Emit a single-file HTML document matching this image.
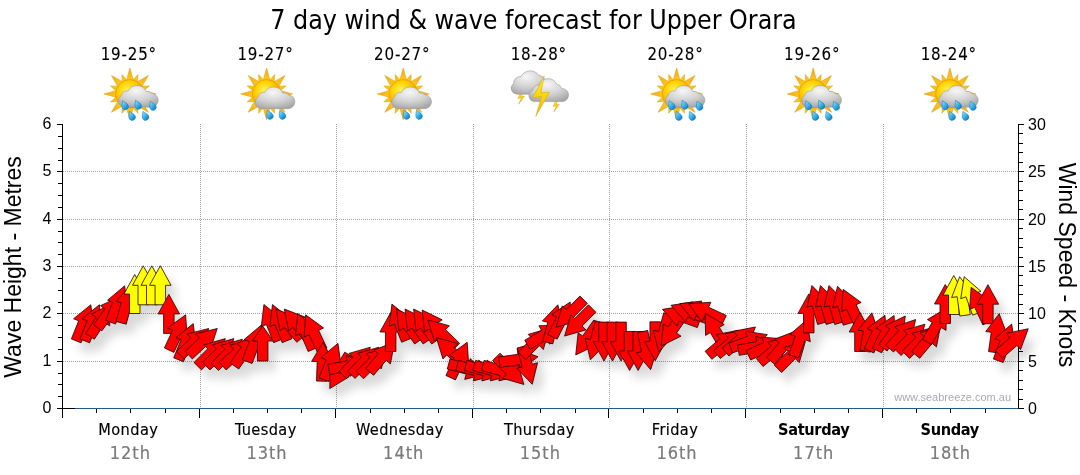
<!DOCTYPE html><html><head><meta charset="utf-8"><title>7 day wind &amp; wave forecast for Upper Orara</title><style>html,body{margin:0;padding:0;background:#fff;width:1080px;height:475px;overflow:hidden}.t{font-family:"DejaVu Sans Condensed","Liberation Sans",sans-serif}.a{font-family:"Liberation Sans",Arial,sans-serif}</style></head><body><svg width="1080" height="475" viewBox="0 0 1080 475" style="display:block"><defs>
<filter id="shadow" x="-5%" y="-20%" width="115%" height="150%">
<feGaussianBlur in="SourceAlpha" stdDeviation="5"/>
<feOffset dx="7" dy="10" result="b"/>
<feComponentTransfer><feFuncA type="linear" slope="0.15"/></feComponentTransfer>
<feMerge><feMergeNode/><feMergeNode in="SourceGraphic"/></feMerge>
</filter>
<polygon id="ar" points="0,-19.5 10.75,0 5.25,0 5.25,19.5 -5.25,19.5 -5.25,0 -10.75,0" vector-effect="non-scaling-stroke"/>
<radialGradient id="gSun" cx="0.42" cy="0.38" r="0.62"><stop offset="0" stop-color="#fff35a"/><stop offset="0.5" stop-color="#ffd200"/><stop offset="1" stop-color="#f0a000"/></radialGradient>
<radialGradient id="gRay" gradientUnits="userSpaceOnUse" cx="31.9" cy="29.9" r="26"><stop offset="0.4" stop-color="#ffd21a"/><stop offset="1" stop-color="#f4a810"/></radialGradient>
<radialGradient id="gCloud" cx="0.45" cy="0.25" r="0.8"><stop offset="0" stop-color="#f6f6f6"/><stop offset="0.55" stop-color="#d2d2d2"/><stop offset="1" stop-color="#a4a4a4"/></radialGradient>
<linearGradient id="gDrop" x1="0" y1="0" x2="0.3" y2="1"><stop offset="0" stop-color="#c8f0ff"/><stop offset="0.5" stop-color="#4cc4f4"/><stop offset="1" stop-color="#1588d0"/></linearGradient>
<linearGradient id="gBolt" x1="0" y1="0" x2="0" y2="1"><stop offset="0" stop-color="#ffef20"/><stop offset="0.6" stop-color="#fcd000"/><stop offset="1" stop-color="#f0a020"/></linearGradient>
<symbol id="ic_r5" viewBox="0 0 66 60" width="66" height="60" overflow="visible">
<path d="M36.1,18.9L31.9,3.9L27.7,18.9ZM39.3,21.0L39.9,10.5L33.0,18.4ZM42.6,25.1L50.3,11.5L36.7,19.2ZM43.4,28.8L51.3,21.9L40.8,22.5ZM42.9,34.1L57.9,29.9L42.9,25.7ZM40.8,37.3L51.3,37.9L43.4,31.0ZM36.7,40.6L50.3,48.3L42.6,34.7ZM33.0,41.4L39.9,49.3L39.3,38.8ZM27.7,40.9L31.9,55.9L36.1,40.9ZM24.5,38.8L23.9,49.3L30.8,41.4ZM21.2,34.7L13.5,48.3L27.1,40.6ZM20.4,31.0L12.5,37.9L23.0,37.3ZM20.9,25.7L5.9,29.9L20.9,34.1ZM23.0,22.5L12.5,21.9L20.4,28.8ZM27.1,19.2L13.5,11.5L21.2,25.1ZM30.8,18.4L23.9,10.5L24.5,21.0Z" fill="url(#gRay)" stroke="#e09a10" stroke-width="0.5"/><circle cx="31.9" cy="29.9" r="14.3" fill="url(#gSun)" stroke="#eb9a00" stroke-width="0.7"/>
<path transform="translate(40 36) scale(0.95) translate(-40 -36)" d="M26,43.5 A6.8,6.8 0 0 1 22.3,31.2 A6,6 0 0 1 29.5,26.5 A10.5,10.5 0 0 1 48.5,27 A6.5,6.5 0 0 1 54.5,29 A7.3,7.3 0 0 1 55,43.5 Z" fill="url(#gCloud)" stroke="#9a9a9a" stroke-width="0.6"/>
<path transform="translate(26.7 41.5) rotate(-25) scale(1.0)" d="M0,-5.2 C1.2,-3 3.2,-1 3.2,1.2 A3.2,3.2 0 0 1 -3.2,1.2 C-3.2,-1 -1.2,-3 0,-5.2Z" fill="url(#gDrop)" stroke="#1276b8" stroke-width="0.5"/>
<path transform="translate(39.7 41) rotate(-25) scale(1.0)" d="M0,-5.2 C1.2,-3 3.2,-1 3.2,1.2 A3.2,3.2 0 0 1 -3.2,1.2 C-3.2,-1 -1.2,-3 0,-5.2Z" fill="url(#gDrop)" stroke="#1276b8" stroke-width="0.5"/>
<path transform="translate(54.5 42) rotate(-25) scale(1.0)" d="M0,-5.2 C1.2,-3 3.2,-1 3.2,1.2 A3.2,3.2 0 0 1 -3.2,1.2 C-3.2,-1 -1.2,-3 0,-5.2Z" fill="url(#gDrop)" stroke="#1276b8" stroke-width="0.5"/>
<path transform="translate(33.7 52.1) rotate(-25) scale(1.0)" d="M0,-5.2 C1.2,-3 3.2,-1 3.2,1.2 A3.2,3.2 0 0 1 -3.2,1.2 C-3.2,-1 -1.2,-3 0,-5.2Z" fill="url(#gDrop)" stroke="#1276b8" stroke-width="0.5"/>
<path transform="translate(47.1 52.1) rotate(-25) scale(1.0)" d="M0,-5.2 C1.2,-3 3.2,-1 3.2,1.2 A3.2,3.2 0 0 1 -3.2,1.2 C-3.2,-1 -1.2,-3 0,-5.2Z" fill="url(#gDrop)" stroke="#1276b8" stroke-width="0.5"/>
</symbol>
<symbol id="ic_r2" viewBox="0 0 66 60" width="66" height="60" overflow="visible">
<path d="M36.1,18.9L31.9,3.9L27.7,18.9ZM39.3,21.0L39.9,10.5L33.0,18.4ZM42.6,25.1L50.3,11.5L36.7,19.2ZM43.4,28.8L51.3,21.9L40.8,22.5ZM42.9,34.1L57.9,29.9L42.9,25.7ZM40.8,37.3L51.3,37.9L43.4,31.0ZM36.7,40.6L50.3,48.3L42.6,34.7ZM33.0,41.4L39.9,49.3L39.3,38.8ZM27.7,40.9L31.9,55.9L36.1,40.9ZM24.5,38.8L23.9,49.3L30.8,41.4ZM21.2,34.7L13.5,48.3L27.1,40.6ZM20.4,31.0L12.5,37.9L23.0,37.3ZM20.9,25.7L5.9,29.9L20.9,34.1ZM23.0,22.5L12.5,21.9L20.4,28.8ZM27.1,19.2L13.5,11.5L21.2,25.1ZM30.8,18.4L23.9,10.5L24.5,21.0Z" fill="url(#gRay)" stroke="#e09a10" stroke-width="0.5"/><circle cx="31.9" cy="29.9" r="14.3" fill="url(#gSun)" stroke="#eb9a00" stroke-width="0.7"/>
<path transform="translate(0 1.5) translate(40 36) scale(0.95) translate(-40 -36)" d="M26,43.5 A6.8,6.8 0 0 1 22.3,31.2 A6,6 0 0 1 29.5,26.5 A10.5,10.5 0 0 1 48.5,27 A6.5,6.5 0 0 1 54.5,29 A7.3,7.3 0 0 1 55,43.5 Z" fill="url(#gCloud)" stroke="#9a9a9a" stroke-width="0.6"/>
<path transform="translate(34.8 51) rotate(-25) scale(1.0)" d="M0,-5.2 C1.2,-3 3.2,-1 3.2,1.2 A3.2,3.2 0 0 1 -3.2,1.2 C-3.2,-1 -1.2,-3 0,-5.2Z" fill="url(#gDrop)" stroke="#1276b8" stroke-width="0.5"/>
<path transform="translate(47.3 51) rotate(-25) scale(1.0)" d="M0,-5.2 C1.2,-3 3.2,-1 3.2,1.2 A3.2,3.2 0 0 1 -3.2,1.2 C-3.2,-1 -1.2,-3 0,-5.2Z" fill="url(#gDrop)" stroke="#1276b8" stroke-width="0.5"/>
</symbol>
<symbol id="ic_th" viewBox="0 0 66 60" width="66" height="60" overflow="visible">
<path transform="translate(13 27.5) scale(1.15)" d="M0,0 L-2.5,6 L0.5,5.5 L-2,11 L3,4 L0.3,4.3 L1.5,0Z" fill="url(#gBolt)" stroke="#d49a10" stroke-width="0.4"/>
<path transform="translate(48 35.8) scale(1.1)" d="M0,0 L-2.5,6 L0.5,5.5 L-2,11 L3,4 L0.3,4.3 L1.5,0Z" fill="url(#gBolt)" stroke="#d49a10" stroke-width="0.4"/>
<path d="M9,30.2 A6,6 0 0 1 5.5,19.5 A7,7 0 0 1 13,12.5 A10.5,10.5 0 0 1 31,11.5 A6,6 0 0 1 37,17 L36,30.2Z" fill="url(#gCloud)" stroke="#9a9a9a" stroke-width="0.6"/>
<path d="M26,37.6 A5.8,5.8 0 0 1 24.5,26.5 A6.5,6.5 0 0 1 31,21 A9.5,9.5 0 0 1 48.5,20 A6,6 0 0 1 53.5,24.5 A6.6,6.6 0 0 1 55,37.6Z" fill="url(#gCloud)" stroke="#9a9a9a" stroke-width="0.6"/>
<path d="M36.2,11.8 L24.6,33.9 L33.6,32.4 L27.8,52.3 L41.5,28.1 L32.8,28.9 Z" fill="url(#gBolt)" stroke="#d8a010" stroke-width="0.5"/>
</symbol></defs>
<text class="t" x="533.5" y="29" font-size="26.5" text-anchor="middle" fill="#000">7 day wind &amp; wave forecast for Upper Orara</text><g stroke="#a0a0a0" stroke-width="1" stroke-dasharray="1 1"><line x1="63" y1="361.5" x2="1018" y2="361.5"/><line x1="63" y1="313.5" x2="1018" y2="313.5"/><line x1="63" y1="266.5" x2="1018" y2="266.5"/><line x1="63" y1="219.5" x2="1018" y2="219.5"/><line x1="63" y1="171.5" x2="1018" y2="171.5"/><line x1="200.5" y1="124" x2="200.5" y2="408"/><line x1="336.5" y1="124" x2="336.5" y2="408"/><line x1="473.5" y1="124" x2="473.5" y2="408"/><line x1="609.5" y1="124" x2="609.5" y2="408"/><line x1="746.5" y1="124" x2="746.5" y2="408"/><line x1="883.5" y1="124" x2="883.5" y2="408"/></g><g stroke="#000" stroke-width="1"><line x1="62.5" y1="124" x2="62.5" y2="418"/><line x1="1018.5" y1="124" x2="1018.5" y2="409"/><line x1="57" y1="408.5" x2="76" y2="408.5"/><line x1="57" y1="408.5" x2="62.5" y2="408.5"/><line x1="58" y1="396.5" x2="62.5" y2="396.5"/><line x1="58" y1="384.5" x2="62.5" y2="384.5"/><line x1="58" y1="373.5" x2="62.5" y2="373.5"/><line x1="57" y1="361.5" x2="62.5" y2="361.5"/><line x1="58" y1="349.5" x2="62.5" y2="349.5"/><line x1="58" y1="337.5" x2="62.5" y2="337.5"/><line x1="58" y1="325.5" x2="62.5" y2="325.5"/><line x1="57" y1="313.5" x2="62.5" y2="313.5"/><line x1="58" y1="302.5" x2="62.5" y2="302.5"/><line x1="58" y1="290.5" x2="62.5" y2="290.5"/><line x1="58" y1="278.5" x2="62.5" y2="278.5"/><line x1="57" y1="266.5" x2="62.5" y2="266.5"/><line x1="58" y1="254.5" x2="62.5" y2="254.5"/><line x1="58" y1="242.5" x2="62.5" y2="242.5"/><line x1="58" y1="231.5" x2="62.5" y2="231.5"/><line x1="57" y1="219.5" x2="62.5" y2="219.5"/><line x1="58" y1="207.5" x2="62.5" y2="207.5"/><line x1="58" y1="195.5" x2="62.5" y2="195.5"/><line x1="58" y1="183.5" x2="62.5" y2="183.5"/><line x1="57" y1="171.5" x2="62.5" y2="171.5"/><line x1="58" y1="160.5" x2="62.5" y2="160.5"/><line x1="58" y1="148.5" x2="62.5" y2="148.5"/><line x1="58" y1="136.5" x2="62.5" y2="136.5"/><line x1="57" y1="124.5" x2="62.5" y2="124.5"/><line x1="1018.5" y1="408.5" x2="1024" y2="408.5"/><line x1="1018.5" y1="399.5" x2="1023" y2="399.5"/><line x1="1018.5" y1="389.5" x2="1023" y2="389.5"/><line x1="1018.5" y1="380.5" x2="1023" y2="380.5"/><line x1="1018.5" y1="370.5" x2="1023" y2="370.5"/><line x1="1018.5" y1="361.5" x2="1024" y2="361.5"/><line x1="1018.5" y1="351.5" x2="1023" y2="351.5"/><line x1="1018.5" y1="342.5" x2="1023" y2="342.5"/><line x1="1018.5" y1="332.5" x2="1023" y2="332.5"/><line x1="1018.5" y1="323.5" x2="1023" y2="323.5"/><line x1="1018.5" y1="313.5" x2="1024" y2="313.5"/><line x1="1018.5" y1="304.5" x2="1023" y2="304.5"/><line x1="1018.5" y1="294.5" x2="1023" y2="294.5"/><line x1="1018.5" y1="285.5" x2="1023" y2="285.5"/><line x1="1018.5" y1="275.5" x2="1023" y2="275.5"/><line x1="1018.5" y1="266.5" x2="1024" y2="266.5"/><line x1="1018.5" y1="257.5" x2="1023" y2="257.5"/><line x1="1018.5" y1="247.5" x2="1023" y2="247.5"/><line x1="1018.5" y1="238.5" x2="1023" y2="238.5"/><line x1="1018.5" y1="228.5" x2="1023" y2="228.5"/><line x1="1018.5" y1="219.5" x2="1024" y2="219.5"/><line x1="1018.5" y1="209.5" x2="1023" y2="209.5"/><line x1="1018.5" y1="200.5" x2="1023" y2="200.5"/><line x1="1018.5" y1="190.5" x2="1023" y2="190.5"/><line x1="1018.5" y1="181.5" x2="1023" y2="181.5"/><line x1="1018.5" y1="171.5" x2="1024" y2="171.5"/><line x1="1018.5" y1="162.5" x2="1023" y2="162.5"/><line x1="1018.5" y1="152.5" x2="1023" y2="152.5"/><line x1="1018.5" y1="143.5" x2="1023" y2="143.5"/><line x1="1018.5" y1="133.5" x2="1023" y2="133.5"/><line x1="1018.5" y1="124.5" x2="1024" y2="124.5"/><line x1="62.5" y1="408" x2="62.5" y2="418"/><line x1="96.5" y1="408" x2="96.5" y2="413"/><line x1="130.5" y1="408" x2="130.5" y2="413"/><line x1="165.5" y1="408" x2="165.5" y2="413"/><line x1="199.5" y1="408" x2="199.5" y2="418"/><line x1="233.5" y1="408" x2="233.5" y2="413"/><line x1="267.5" y1="408" x2="267.5" y2="413"/><line x1="301.5" y1="408" x2="301.5" y2="413"/><line x1="335.5" y1="408" x2="335.5" y2="418"/><line x1="370.5" y1="408" x2="370.5" y2="413"/><line x1="404.5" y1="408" x2="404.5" y2="413"/><line x1="438.5" y1="408" x2="438.5" y2="413"/><line x1="472.5" y1="408" x2="472.5" y2="418"/><line x1="506.5" y1="408" x2="506.5" y2="413"/><line x1="540.5" y1="408" x2="540.5" y2="413"/><line x1="575.5" y1="408" x2="575.5" y2="413"/><line x1="608.5" y1="408" x2="608.5" y2="418"/><line x1="643.5" y1="408" x2="643.5" y2="413"/><line x1="677.5" y1="408" x2="677.5" y2="413"/><line x1="711.5" y1="408" x2="711.5" y2="413"/><line x1="745.5" y1="408" x2="745.5" y2="418"/><line x1="780.5" y1="408" x2="780.5" y2="413"/><line x1="814.5" y1="408" x2="814.5" y2="413"/><line x1="848.5" y1="408" x2="848.5" y2="413"/><line x1="882.5" y1="408" x2="882.5" y2="418"/><line x1="916.5" y1="408" x2="916.5" y2="413"/><line x1="950.5" y1="408" x2="950.5" y2="413"/><line x1="985.5" y1="408" x2="985.5" y2="413"/></g><line x1="75" y1="408.5" x2="1018" y2="408.5" stroke="#1f5c8c" stroke-width="1.2"/><text class="a" x="1011" y="401" font-size="11" text-anchor="end" fill="#aaaab8">www.seabreeze.com.au</text><text class="a" x="51.5" y="413.4" font-size="16" text-anchor="end">0</text><text class="a" x="51.5" y="366.4" font-size="16" text-anchor="end">1</text><text class="a" x="51.5" y="318.4" font-size="16" text-anchor="end">2</text><text class="a" x="51.5" y="271.4" font-size="16" text-anchor="end">3</text><text class="a" x="51.5" y="224.4" font-size="16" text-anchor="end">4</text><text class="a" x="51.5" y="176.4" font-size="16" text-anchor="end">5</text><text class="a" x="51.5" y="129.4" font-size="16" text-anchor="end">6</text><text class="a" x="1028" y="413.6" font-size="16">0</text><text class="a" x="1028" y="366.6" font-size="16">5</text><text class="a" x="1028" y="318.6" font-size="16">10</text><text class="a" x="1028" y="271.6" font-size="16">15</text><text class="a" x="1028" y="224.6" font-size="16">20</text><text class="a" x="1028" y="176.6" font-size="16">25</text><text class="a" x="1028" y="129.6" font-size="16">30</text><text class="a" x="0" y="0" font-size="23" text-anchor="middle" transform="translate(20.5 267) rotate(-90)">Wave Height - Metres</text><text class="a" x="0" y="0" font-size="23" text-anchor="middle" transform="translate(1059 265) rotate(90)">Wind Speed - Knots</text><text class="t" x="128.3" y="435" font-size="16.2" text-anchor="middle" letter-spacing="0.4" stroke="#000" stroke-width="0.15">Monday</text><text class="t" x="130.3" y="459" font-size="18" text-anchor="middle" fill="#7a7a7a" letter-spacing="1" stroke="#7a7a7a" stroke-width="0.2">12th</text><text class="t" x="128.8" y="59.6" font-size="16.8" text-anchor="middle" letter-spacing="0.8" stroke="#000" stroke-width="0.1">19-25°</text><use href="#ic_r5" x="98.0" y="64"/><text class="t" x="265.8" y="435" font-size="16.2" text-anchor="middle" letter-spacing="0.4" stroke="#000" stroke-width="0.15">Tuesday</text><text class="t" x="267.0" y="459" font-size="18" text-anchor="middle" fill="#7a7a7a" letter-spacing="1" stroke="#7a7a7a" stroke-width="0.2">13th</text><text class="t" x="265.5" y="59.6" font-size="16.8" text-anchor="middle" letter-spacing="0.8" stroke="#000" stroke-width="0.1">19-27°</text><use href="#ic_r2" x="234.7" y="64"/><text class="t" x="399.9" y="435" font-size="16.2" text-anchor="middle" letter-spacing="0.4" stroke="#000" stroke-width="0.15">Wednesday</text><text class="t" x="403.7" y="459" font-size="18" text-anchor="middle" fill="#7a7a7a" letter-spacing="1" stroke="#7a7a7a" stroke-width="0.2">14th</text><text class="t" x="402.2" y="59.6" font-size="16.8" text-anchor="middle" letter-spacing="0.8" stroke="#000" stroke-width="0.1">20-27°</text><use href="#ic_r2" x="371.3" y="64"/><text class="t" x="539.4" y="435" font-size="16.2" text-anchor="middle" letter-spacing="0.4" stroke="#000" stroke-width="0.15">Thursday</text><text class="t" x="540.3" y="459" font-size="18" text-anchor="middle" fill="#7a7a7a" letter-spacing="1" stroke="#7a7a7a" stroke-width="0.2">15th</text><text class="t" x="538.8" y="59.6" font-size="16.8" text-anchor="middle" letter-spacing="0.8" stroke="#000" stroke-width="0.1">18-28°</text><use href="#ic_th" x="508.0" y="64"/><text class="t" x="675.0" y="435" font-size="16.2" text-anchor="middle" letter-spacing="0.4" stroke="#000" stroke-width="0.15">Friday</text><text class="t" x="677.0" y="459" font-size="18" text-anchor="middle" fill="#7a7a7a" letter-spacing="1" stroke="#7a7a7a" stroke-width="0.2">16th</text><text class="t" x="675.5" y="59.6" font-size="16.8" text-anchor="middle" letter-spacing="0.8" stroke="#000" stroke-width="0.1">20-28°</text><use href="#ic_r5" x="644.7" y="64"/><text class="t" x="813.7" y="435" font-size="16.2" text-anchor="middle" font-weight="bold" letter-spacing="-0.35">Saturday</text><text class="t" x="813.7" y="459" font-size="18" text-anchor="middle" fill="#7a7a7a" letter-spacing="1" stroke="#7a7a7a" stroke-width="0.2">17th</text><text class="t" x="812.2" y="59.6" font-size="16.8" text-anchor="middle" letter-spacing="0.8" stroke="#000" stroke-width="0.1">19-26°</text><use href="#ic_r5" x="781.3" y="64"/><text class="t" x="949.7" y="435" font-size="16.2" text-anchor="middle" font-weight="bold" letter-spacing="-0.35">Sunday</text><text class="t" x="950.3" y="459" font-size="18" text-anchor="middle" fill="#7a7a7a" letter-spacing="1" stroke="#7a7a7a" stroke-width="0.2">18th</text><text class="t" x="948.8" y="59.6" font-size="16.8" text-anchor="middle" letter-spacing="0.8" stroke="#000" stroke-width="0.1">18-24°</text><use href="#ic_r5" x="918.0" y="64"/><g filter="url(#shadow)" stroke="#200000" stroke-width="0.8" stroke-linejoin="miter">
<polygon points="90.84,304.72 93.50,326.83 88.40,324.77 81.09,342.85 71.36,338.91 78.66,320.83 73.56,318.77" fill="#ff0000"/>
<polygon points="99.37,304.72 102.03,326.83 96.93,324.77 89.63,342.85 79.89,338.91 87.20,320.83 82.10,318.77" fill="#ff0000"/>
<polygon points="111.22,303.65 109.61,325.85 105.00,322.86 94.38,339.21 85.57,333.49 96.19,317.14 91.58,314.15" fill="#ff0000"/>
<polygon points="120.59,296.22 117.82,318.32 113.38,315.09 101.91,330.86 93.42,324.69 104.88,308.91 100.43,305.68" fill="#ff0000"/>
<polygon points="124.65,285.80 127.70,307.85 122.56,305.88 115.57,324.09 105.77,320.32 112.76,302.12 107.62,300.15" fill="#ff0000"/>
<polygon points="131.24,285.16 136.58,306.78 131.26,305.36 126.22,324.19 116.07,321.48 121.12,302.64 115.81,301.22" fill="#ff0000"/>
<polygon points="134.72,274.50 145.47,294.00 139.97,294.00 139.97,313.50 129.47,313.50 129.47,294.00 123.97,294.00" fill="#ffff00"/>
<polygon points="143.26,265.80 154.01,285.30 148.51,285.30 148.51,304.80 138.01,304.80 138.01,285.30 132.51,285.30" fill="#ffff00"/>
<polygon points="151.79,265.80 162.54,285.30 157.04,285.30 157.04,304.80 146.54,304.80 146.54,285.30 141.04,285.30" fill="#ffff00"/>
<polygon points="160.32,265.80 171.07,285.30 165.57,285.30 165.57,304.80 155.07,304.80 155.07,285.30 149.57,285.30" fill="#ffff00"/>
<polygon points="168.85,294.40 179.60,313.90 174.10,313.90 174.10,333.40 163.60,333.40 163.60,313.90 158.10,313.90" fill="#ff0000"/>
<polygon points="185.63,314.83 187.13,337.04 182.14,334.72 173.90,352.39 164.38,347.95 172.63,330.28 167.64,327.96" fill="#ff0000"/>
<polygon points="193.22,323.62 195.88,345.73 190.78,343.67 183.48,361.75 173.74,357.81 181.05,339.73 175.95,337.67" fill="#ff0000"/>
<polygon points="208.71,328.50 201.78,349.66 198.03,345.64 183.77,358.94 176.61,351.26 190.87,337.96 187.12,333.94" fill="#ff0000"/>
<polygon points="217.24,328.50 210.31,349.66 206.56,345.64 192.30,358.94 185.14,351.26 199.40,337.96 195.65,333.94" fill="#ff0000"/>
<polygon points="225.30,338.61 219.11,360.00 215.22,356.11 201.44,369.90 194.01,362.48 207.80,348.69 203.91,344.80" fill="#ff0000"/>
<polygon points="233.83,338.61 227.65,360.00 223.76,356.11 209.97,369.90 202.54,362.48 216.33,348.69 212.44,344.80" fill="#ff0000"/>
<polygon points="242.36,339.21 236.18,360.60 232.29,356.71 218.50,370.50 211.08,363.08 224.86,349.29 220.97,345.40" fill="#ff0000"/>
<polygon points="251.60,339.95 244.30,360.99 240.62,356.90 226.13,369.95 219.10,362.15 233.60,349.10 229.91,345.01" fill="#ff0000"/>
<polygon points="256.82,334.03 254.45,356.17 249.94,353.01 238.76,368.98 230.15,362.96 241.34,346.99 236.83,343.83" fill="#ff0000"/>
<polygon points="261.16,325.20 264.21,347.25 259.07,345.28 252.09,363.49 242.28,359.72 249.27,341.52 244.14,339.55" fill="#ff0000"/>
<polygon points="262.70,326.00 273.10,341.00 267.95,341.00 267.95,361.00 257.45,361.00 257.45,341.00 252.30,341.00" fill="#ff0000"/>
<polygon points="263.93,304.52 281.20,318.57 276.10,320.63 283.41,338.71 273.67,342.65 266.37,324.57 261.27,326.63" fill="#ff0000"/>
<polygon points="272.46,304.52 289.74,318.57 284.64,320.63 291.94,338.71 282.21,342.65 274.90,324.57 269.80,326.63" fill="#ff0000"/>
<polygon points="275.77,309.06 296.53,317.09 292.32,320.63 304.86,335.56 296.81,342.31 284.28,327.37 280.07,330.91" fill="#ff0000"/>
<polygon points="284.30,309.06 305.07,317.09 300.85,320.63 313.39,335.56 305.34,342.31 292.81,327.37 288.60,330.91" fill="#ff0000"/>
<polygon points="297.74,313.55 315.26,327.30 310.20,329.45 317.82,347.40 308.15,351.50 300.53,333.55 295.47,335.70" fill="#ff0000"/>
<polygon points="305.65,314.83 323.64,327.96 318.65,330.28 326.90,347.95 317.38,352.39 309.14,334.72 304.15,337.04" fill="#ff0000"/>
<polygon points="323.11,342.21 333.17,362.08 327.67,361.88 326.99,381.37 316.50,381.00 317.18,361.52 311.68,361.32" fill="#ff0000"/>
<polygon points="337.95,343.30 341.00,365.35 335.86,363.38 328.87,381.59 319.07,377.82 326.06,359.62 320.92,357.65" fill="#ff0000"/>
<polygon points="329.74,388.59 330.18,366.32 334.95,369.07 344.70,352.19 353.79,357.44 344.04,374.32 348.80,377.07" fill="#ff0000"/>
<polygon points="367.23,362.61 349.89,376.59 348.94,371.17 329.73,374.56 327.91,364.22 347.11,360.83 346.16,355.41" fill="#ff0000"/>
<polygon points="370.34,347.21 364.16,368.60 360.27,364.71 346.48,378.50 339.06,371.08 352.84,357.29 348.95,353.40" fill="#ff0000"/>
<polygon points="378.88,347.21 372.69,368.60 368.80,364.71 355.01,378.50 347.59,371.08 361.38,357.29 357.49,353.40" fill="#ff0000"/>
<polygon points="387.41,347.51 381.22,368.90 377.33,365.01 363.54,378.80 356.12,371.38 369.91,357.59 366.02,353.70" fill="#ff0000"/>
<polygon points="394.69,342.06 390.39,363.91 386.17,360.37 373.64,375.31 365.60,368.56 378.13,353.63 373.92,350.09" fill="#ff0000"/>
<polygon points="390.68,312.50 401.43,332.00 395.93,332.00 395.93,351.50 385.43,351.50 385.43,332.00 379.93,332.00" fill="#ff0000"/>
<polygon points="391.91,304.12 409.18,318.17 404.08,320.23 411.39,338.31 401.65,342.25 394.35,324.17 389.25,326.23" fill="#ff0000"/>
<polygon points="396.56,309.03 416.55,318.83 412.05,321.99 423.23,337.96 414.63,343.98 403.45,328.01 398.94,331.17" fill="#ff0000"/>
<polygon points="405.10,309.03 425.09,318.83 420.58,321.99 431.77,337.96 423.16,343.98 411.98,328.01 407.47,331.17" fill="#ff0000"/>
<polygon points="413.63,309.03 433.62,318.83 429.11,321.99 440.30,337.96 431.70,343.98 420.51,328.01 416.01,331.17" fill="#ff0000"/>
<polygon points="422.16,310.03 442.15,319.83 437.64,322.99 448.83,338.96 440.23,344.98 429.04,329.01 424.54,332.17" fill="#ff0000"/>
<polygon points="427.85,319.95 449.34,325.77 445.52,329.72 459.55,343.27 452.26,350.82 438.23,337.28 434.41,341.23" fill="#ff0000"/>
<polygon points="436.38,337.65 457.88,343.47 454.05,347.42 468.08,360.97 460.79,368.52 446.76,354.98 442.94,358.93" fill="#ff0000"/>
<polygon points="467.18,342.33 468.68,364.54 463.70,362.22 455.46,379.89 445.94,375.45 454.18,357.78 449.20,355.46" fill="#ff0000"/>
<polygon points="486.31,374.05 464.69,379.38 466.11,374.07 447.28,369.02 450.00,358.88 468.83,363.93 470.25,358.62" fill="#ff0000"/>
<polygon points="494.84,375.55 473.22,380.88 474.65,375.57 455.81,370.52 458.53,360.38 477.36,365.43 478.79,360.12" fill="#ff0000"/>
<polygon points="503.37,375.55 481.75,380.88 483.18,375.57 464.34,370.52 467.06,360.38 485.89,365.43 487.32,360.12" fill="#ff0000"/>
<polygon points="511.90,375.55 490.29,380.88 491.71,375.57 472.87,370.52 475.59,360.38 494.43,365.43 495.85,360.12" fill="#ff0000"/>
<polygon points="520.44,375.55 498.82,380.88 500.24,375.57 481.41,370.52 484.12,360.38 502.96,365.43 504.38,360.12" fill="#ff0000"/>
<polygon points="523.92,384.49 502.53,378.30 506.42,374.41 492.63,360.62 500.06,353.20 513.84,366.99 517.73,363.10" fill="#ff0000"/>
<polygon points="537.97,356.79 520.16,370.15 519.39,364.70 500.08,367.41 498.62,357.01 517.93,354.30 517.17,348.85" fill="#ff0000"/>
<polygon points="532.24,384.34 516.81,368.28 522.12,366.86 517.08,348.02 527.22,345.31 532.27,364.14 537.58,362.72" fill="#ff0000"/>
<polygon points="549.52,328.21 543.33,349.60 539.44,345.71 525.65,359.50 518.23,352.08 532.02,338.29 528.13,334.40" fill="#ff0000"/>
<polygon points="561.15,325.25 549.63,344.31 546.88,339.55 530.00,349.30 524.75,340.20 541.63,330.45 538.88,325.69" fill="#ff0000"/>
<polygon points="557.84,304.86 563.18,326.48 557.86,325.06 552.82,343.89 542.67,341.18 547.72,322.34 542.41,320.92" fill="#ff0000"/>
<polygon points="570.18,302.03 570.90,324.28 566.00,321.78 557.15,339.16 547.79,334.39 556.65,317.02 551.75,314.52" fill="#ff0000"/>
<polygon points="556.07,327.29 562.25,305.90 566.14,309.79 579.93,296.00 587.36,303.42 573.57,317.21 577.46,321.10" fill="#ff0000"/>
<polygon points="564.60,336.09 570.79,314.70 574.68,318.59 588.46,304.80 595.89,312.22 582.10,326.01 585.99,329.90" fill="#ff0000"/>
<polygon points="575.74,354.97 578.11,332.83 582.62,335.99 593.80,320.02 602.41,326.04 591.22,342.01 595.73,345.17" fill="#ff0000"/>
<polygon points="590.41,359.84 585.07,338.22 590.38,339.64 595.43,320.81 605.57,323.52 600.52,342.36 605.84,343.78" fill="#ff0000"/>
<polygon points="603.98,361.10 593.23,341.60 598.73,341.60 598.73,322.10 609.23,322.10 609.23,341.60 614.73,341.60" fill="#ff0000"/>
<polygon points="612.52,361.10 601.77,341.60 607.27,341.60 607.27,322.10 617.77,322.10 617.77,341.60 623.27,341.60" fill="#ff0000"/>
<polygon points="621.05,361.10 610.30,341.60 615.80,341.60 615.80,322.10 626.30,322.10 626.30,341.60 631.80,341.60" fill="#ff0000"/>
<polygon points="629.58,370.50 618.83,351.00 624.33,351.00 624.33,331.50 634.83,331.50 634.83,351.00 640.33,351.00" fill="#ff0000"/>
<polygon points="638.11,370.50 627.36,351.00 632.86,351.00 632.86,331.50 643.36,331.50 643.36,351.00 648.86,351.00" fill="#ff0000"/>
<polygon points="650.70,369.67 636.13,352.84 641.51,351.69 637.45,332.62 647.72,330.43 651.78,349.51 657.16,348.36" fill="#ff0000"/>
<polygon points="655.18,360.80 644.43,341.30 649.93,341.30 649.93,321.80 660.43,321.80 660.43,341.30 665.93,341.30" fill="#ff0000"/>
<polygon points="658.66,351.84 653.32,330.22 658.64,331.64 663.68,312.81 673.83,315.52 668.78,334.36 674.09,335.78" fill="#ff0000"/>
<polygon points="661.06,345.97 663.43,323.83 667.94,326.99 679.12,311.02 687.73,317.04 676.54,333.01 681.05,336.17" fill="#ff0000"/>
<polygon points="662.45,309.33 684.45,305.90 682.57,311.07 700.89,317.74 697.30,327.60 678.98,320.93 677.10,326.10" fill="#ff0000"/>
<polygon points="670.98,305.33 692.98,301.90 691.10,307.07 709.42,313.74 705.83,323.60 687.51,316.93 685.63,322.10" fill="#ff0000"/>
<polygon points="679.76,303.70 701.86,301.03 699.80,306.13 717.88,313.44 713.95,323.17 695.87,315.87 693.81,320.97" fill="#ff0000"/>
<polygon points="688.69,303.76 710.91,302.26 708.59,307.24 726.26,315.48 721.82,325.00 704.15,316.76 701.82,321.74" fill="#ff0000"/>
<polygon points="705.15,313.11 724.21,324.62 719.45,327.38 729.20,344.26 720.10,349.51 710.35,332.62 705.59,335.38" fill="#ff0000"/>
<polygon points="738.37,330.27 730.34,351.03 726.81,346.82 711.87,359.36 705.12,351.31 720.06,338.78 716.52,334.57" fill="#ff0000"/>
<polygon points="746.90,329.47 738.87,350.23 735.34,346.02 720.40,358.56 713.65,350.51 728.59,337.98 725.05,333.77" fill="#ff0000"/>
<polygon points="755.43,326.97 747.41,347.73 743.87,343.52 728.93,356.06 722.18,348.01 737.12,335.48 733.59,331.27" fill="#ff0000"/>
<polygon points="767.35,334.63 752.70,351.40 750.82,346.23 732.50,352.90 728.91,343.04 747.23,336.37 745.35,331.20" fill="#ff0000"/>
<polygon points="776.76,343.41 759.43,357.39 758.47,351.97 739.27,355.36 737.44,345.02 756.65,341.63 755.69,336.21" fill="#ff0000"/>
<polygon points="783.77,338.76 770.64,356.74 768.31,351.76 750.64,360.00 746.20,350.48 763.87,342.24 761.55,337.26" fill="#ff0000"/>
<polygon points="789.56,337.47 781.53,358.23 778.00,354.02 763.06,366.56 756.31,358.51 771.25,345.98 767.71,341.77" fill="#ff0000"/>
<polygon points="795.69,331.06 791.39,352.91 787.18,349.37 774.64,364.31 766.60,357.56 779.13,342.63 774.92,339.09" fill="#ff0000"/>
<polygon points="805.48,341.21 799.29,362.60 795.40,358.71 781.61,372.50 774.19,365.08 787.98,351.29 784.09,347.40" fill="#ff0000"/>
<polygon points="806.89,319.68 810.32,341.68 805.15,339.80 798.48,358.12 788.62,354.53 795.29,336.20 790.12,334.32" fill="#ff0000"/>
<polygon points="808.75,293.90 819.50,313.40 814.00,313.40 814.00,332.90 803.50,332.90 803.50,313.40 798.00,313.40" fill="#ff0000"/>
<polygon points="811.91,285.56 827.62,301.34 822.33,302.85 827.71,321.60 817.61,324.49 812.24,305.75 806.95,307.26" fill="#ff0000"/>
<polygon points="820.44,285.56 836.15,301.34 830.86,302.85 836.24,321.60 826.14,324.49 820.77,305.75 815.48,307.26" fill="#ff0000"/>
<polygon points="828.97,285.56 844.68,301.34 839.39,302.85 844.77,321.60 834.68,324.49 829.30,305.75 824.01,307.26" fill="#ff0000"/>
<polygon points="837.51,286.26 853.21,302.04 847.93,303.55 853.30,322.30 843.21,325.19 837.83,306.45 832.55,307.96" fill="#ff0000"/>
<polygon points="843.17,289.33 861.15,302.46 856.17,304.78 864.41,322.45 854.89,326.89 846.65,309.22 841.67,311.54" fill="#ff0000"/>
<polygon points="859.94,312.50 870.69,332.00 865.19,332.00 865.19,351.50 854.69,351.50 854.69,332.00 849.19,332.00" fill="#ff0000"/>
<polygon points="871.86,312.80 879.06,333.87 873.65,332.91 870.26,352.12 859.92,350.29 863.31,331.09 857.89,330.13" fill="#ff0000"/>
<polygon points="884.94,315.19 886.83,337.37 881.80,335.14 873.87,352.95 864.28,348.68 872.21,330.86 867.19,328.63" fill="#ff0000"/>
<polygon points="894.09,315.47 895.20,337.71 890.26,335.30 881.71,352.83 872.27,348.23 880.82,330.70 875.88,328.29" fill="#ff0000"/>
<polygon points="905.26,316.03 902.88,338.17 898.37,335.01 887.19,350.98 878.59,344.96 889.77,328.99 885.27,325.83" fill="#ff0000"/>
<polygon points="915.65,319.51 910.59,341.19 906.51,337.51 893.46,352.00 885.65,344.98 898.70,330.49 894.62,326.81" fill="#ff0000"/>
<polygon points="924.92,324.21 918.74,345.60 914.85,341.71 901.06,355.50 893.64,348.08 907.42,334.29 903.53,330.40" fill="#ff0000"/>
<polygon points="933.46,327.21 927.27,348.60 923.38,344.71 909.59,358.50 902.17,351.08 915.96,337.29 912.07,333.40" fill="#ff0000"/>
<polygon points="940.73,325.06 936.43,346.91 932.22,343.37 919.69,358.31 911.64,351.56 924.18,336.63 919.97,333.09" fill="#ff0000"/>
<polygon points="946.48,308.11 946.04,330.38 941.28,327.62 931.53,344.51 922.44,339.26 932.19,322.38 927.42,319.62" fill="#ff0000"/>
<polygon points="945.26,284.50 956.01,304.00 950.51,304.00 950.51,323.50 940.01,323.50 940.01,304.00 934.51,304.00" fill="#ff0000"/>
<polygon points="953.80,275.50 964.55,295.00 959.05,295.00 959.05,314.50 948.55,314.50 948.55,295.00 943.05,295.00" fill="#ffff00"/>
<polygon points="959.61,276.69 972.97,294.50 967.53,295.27 970.24,314.58 959.84,316.04 957.13,296.73 951.68,297.50" fill="#ffff00"/>
<polygon points="964.19,276.68 980.96,291.32 975.79,293.20 982.46,311.53 972.60,315.12 965.93,296.80 960.76,298.68" fill="#ffff00"/>
<polygon points="971.15,287.33 989.13,300.46 984.15,302.78 992.39,320.45 982.87,324.89 974.63,307.22 969.65,309.54" fill="#ff0000"/>
<polygon points="987.92,284.70 998.67,304.20 993.17,304.20 993.17,323.70 982.67,323.70 982.67,304.20 977.17,304.20" fill="#ff0000"/>
<polygon points="999.17,313.69 1007.10,334.50 1001.65,333.73 998.94,353.04 988.54,351.58 991.26,332.27 985.81,331.50" fill="#ff0000"/>
<polygon points="1011.66,324.08 1015.09,346.08 1009.92,344.20 1003.25,362.52 993.39,358.93 1000.05,340.60 994.89,338.72" fill="#ff0000"/>
<polygon points="1028.24,328.71 1020.57,349.61 1016.96,345.46 1002.25,358.26 995.36,350.33 1010.08,337.54 1006.47,333.39" fill="#ff0000"/>
</g></svg></body></html>
